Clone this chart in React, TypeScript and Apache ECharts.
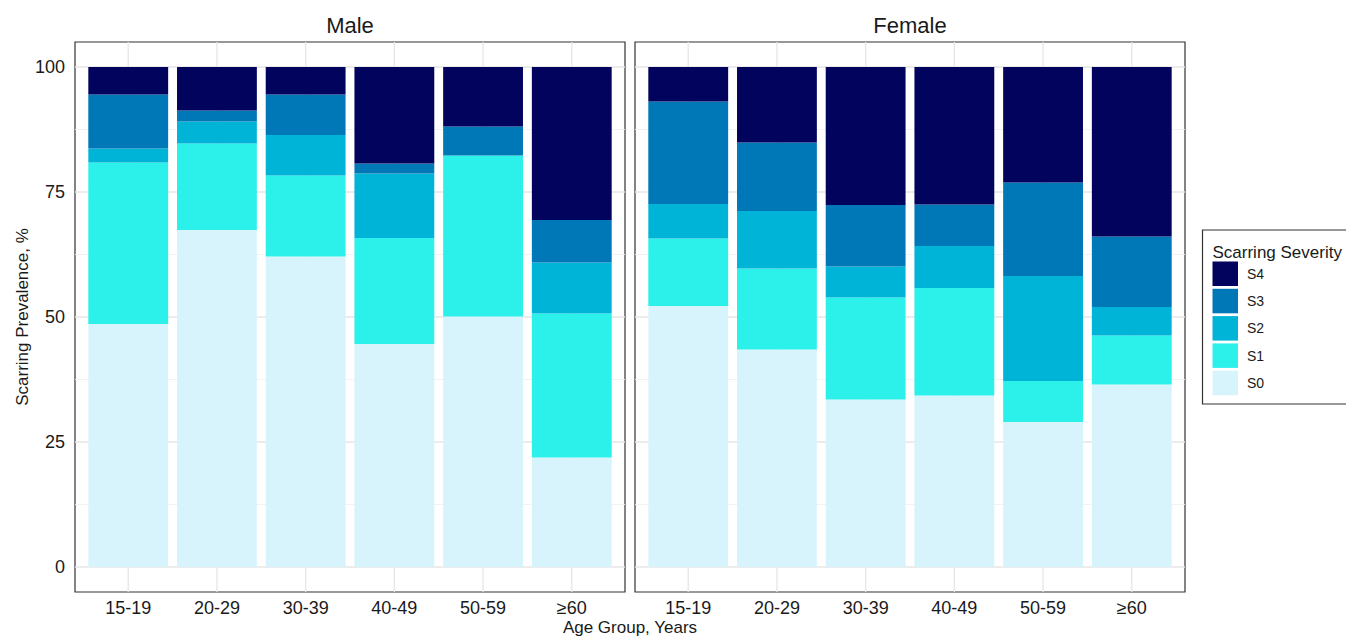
import React, { useEffect, useRef } from "react";
import * as echarts from "echarts";

const ageGroups = ["15-19", "20-29", "30-39", "40-49", "50-59", "≥60"];
const severities = ["S0", "S1", "S2", "S3", "S4"];
const severityColors = ["#D7F4FC", "#2CF1EA", "#00B4D8", "#0077B6", "#02035C"];
const legendOrder = ["S4", "S3", "S2", "S1", "S0"];

// Male, % per age group
const maleS0 = [48.6, 67.4, 62.1, 44.6, 50.1, 21.9];
const maleS1 = [32.3, 17.3, 16.2, 21.2, 32.2, 28.8];
const maleS2 = [2.8, 4.4, 8.1, 12.9, 0, 10.2];
const maleS3 = [10.8, 2.2, 8.1, 2.0, 5.8, 8.5];
const maleS4 = [5.5, 8.7, 5.5, 19.3, 11.9, 30.6];

// Female, % per age group
const femaleS0 = [52.2, 43.5, 33.5, 34.3, 29.0, 36.5];
const femaleS1 = [13.5, 16.2, 20.4, 21.5, 8.2, 9.8];
const femaleS2 = [6.9, 11.5, 6.2, 8.4, 21.0, 5.7];
const femaleS3 = [20.5, 13.7, 12.3, 8.3, 18.7, 14.1];
const femaleS4 = [6.9, 15.1, 27.6, 27.5, 23.1, 33.9];

const panelTitles = ["Male", "Female"];
const yTicks = [0, 25, 50, 75, 100];
const yGridMajor = [0, 25, 50, 75, 100];
const yGridMinor = [12.5, 37.5, 62.5, 87.5];
const catPositions = ageGroups.map((_, i) => i + 1);

const FONT = "'Liberation Sans', Arial, Helvetica, sans-serif";

export default function App() {
  const ref = useRef<HTMLDivElement>(null);

  useEffect(() => {
    if (!ref.current) return;
    const chart = echarts.init(ref.current, undefined, { renderer: "svg" });

    const panels = [
      [maleS0, maleS1, maleS2, maleS3, maleS4],
      [femaleS0, femaleS1, femaleS2, femaleS3, femaleS4],
    ];
    const gridLefts = [75, 635];
    const panelW = 550;
    const panelTop = 42;
    const panelH = 550;
    // ggplot-style expansion: 0.6 category units on each side (6.2 units total)
    const unit = panelW / 6.2;
    const inset = unit * 0.1;
    // y: -5..105 over the panel, bars 0..100
    const yUnit = panelH / 110;

    const grids: any[] = [];
    gridLefts.forEach((left) => {
      // frame + gridlines grid (full panel)
      grids.push({
        left,
        top: panelTop,
        width: panelW,
        height: panelH,
        show: true,
        backgroundColor: "#ffffff",
        borderColor: "#333333",
        borderWidth: 1.2,
      });
    });
    gridLefts.forEach((left) => {
      // bars grid (data region)
      grids.push({
        left: left + inset,
        top: panelTop + 5 * yUnit,
        width: panelW - 2 * inset,
        height: 100 * yUnit,
        show: false,
      });
    });

    const xAxes: any[] = [
      ...gridLefts.map((_, gi) => ({
        type: "value",
        gridIndex: gi,
        min: 0.4,
        max: 6.6,
        axisLine: { show: false },
        axisTick: { show: false },
        splitLine: { show: false },
        axisLabel: {
          show: true,
          customValues: catPositions,
          formatter: (v: number) => ageGroups[Math.round(v) - 1] ?? "",
          fontSize: 18,
          fontFamily: FONT,
          color: "#1a1a1a",
          margin: 7,
        },
      })),
      ...gridLefts.map((_, gi) => ({
        type: "category",
        gridIndex: 2 + gi,
        data: ageGroups,
        boundaryGap: true,
        axisLine: { show: false },
        axisTick: { show: false },
        splitLine: { show: false },
        axisLabel: { show: false },
      })),
    ];

    const yAxes: any[] = [
      ...gridLefts.map((_, gi) => ({
        type: "value",
        gridIndex: gi,
        min: -5,
        max: 105,
        axisLine: { show: false },
        axisTick: { show: false },
        splitLine: { show: false },
        axisLabel: {
          show: gi === 0,
          customValues: yTicks,
          fontSize: 18,
          fontFamily: FONT,
          color: "#1a1a1a",
          margin: 10,
        },
      })),
      ...gridLefts.map((_, gi) => ({
        type: "value",
        gridIndex: 2 + gi,
        min: 0,
        max: 100,
        axisLine: { show: false },
        axisTick: { show: false },
        splitLine: { show: false },
        axisLabel: { show: false },
      })),
    ];

    const series: any[] = [];
    gridLefts.forEach((_, gi) => {
      const hLines = [
        ...yGridMajor.map((v) => [1, v, 1]),
        ...yGridMinor.map((v) => [1, v, 0]),
      ];
      series.push({
        type: "custom",
        name: "hgrid" + gi,
        xAxisIndex: gi,
        yAxisIndex: gi,
        silent: true,
        z: 1,
        data: hLines,
        renderItem: (params: any, api: any) => {
          const cs = params.coordSys;
          const y = api.coord([1, api.value(1)])[1];
          const major = api.value(2) === 1;
          return {
            type: "line",
            shape: { x1: cs.x, y1: y, x2: cs.x + cs.width, y2: y },
            style: { stroke: major ? "#E6E6E6" : "#F0F0F0", lineWidth: major ? 1.3 : 0.9 },
          };
        },
      });
      series.push({
        type: "custom",
        name: "vgrid" + gi,
        xAxisIndex: gi,
        yAxisIndex: gi,
        silent: true,
        z: 1,
        data: catPositions.map((p) => [p, 50]),
        renderItem: (params: any, api: any) => {
          const cs = params.coordSys;
          const x = api.coord([api.value(0), 50])[0];
          return {
            type: "line",
            shape: { x1: x, y1: cs.y, x2: x, y2: cs.y + cs.height },
            style: { stroke: "#E6E6E6", lineWidth: 1.3 },
          };
        },
      });
      panels[gi].forEach((vals, si) => {
        series.push({
          type: "bar",
          name: severities[si],
          xAxisIndex: 2 + gi,
          yAxisIndex: 2 + gi,
          stack: "p" + gi,
          barWidth: "90%",
          z: 2,
          itemStyle: { color: severityColors[si] },
          data: vals,
        });
      });
    });

    const option: any = {
      animation: false,
      backgroundColor: "#ffffff",
      color: severityColors,
      grid: grids,
      xAxis: xAxes,
      yAxis: yAxes,
      legend: {
        data: legendOrder,
        orient: "vertical",
        left: 1212.5,
        top: 261.5,
        padding: 0,
        itemWidth: 25.5,
        itemHeight: 24.5,
        itemGap: 2.8,
        icon: "rect",
        selectedMode: false,
        textStyle: {
          fontSize: 14,
          fontFamily: FONT,
          color: "#1a1a1a",
          padding: [0, 0, 0, 4],
        },
      },
      graphic: [
        ...panelTitles.map((t, i) => ({
          type: "text",
          x: gridLefts[i] + panelW / 2,
          y: 25,
          style: {
            text: t,
            fontSize: 22,
            fontFamily: FONT,
            fill: "#1a1a1a",
            textAlign: "center",
            textVerticalAlign: "middle",
          },
        })),
        {
          type: "text",
          x: 630,
          y: 627,
          style: {
            text: "Age Group, Years",
            fontSize: 17,
            fontFamily: FONT,
            fill: "#1a1a1a",
            textAlign: "center",
            textVerticalAlign: "middle",
          },
        },
        {
          type: "text",
          x: 22,
          y: 317,
          rotation: Math.PI / 2,
          style: {
            text: "Scarring Prevalence, %",
            fontSize: 17,
            fontFamily: FONT,
            fill: "#1a1a1a",
            textAlign: "center",
            textVerticalAlign: "middle",
          },
        },
        {
          type: "rect",
          shape: { x: 1202.5, y: 230, width: 160, height: 174 },
          style: { fill: "none", stroke: "#333333", lineWidth: 1.2 },
          silent: true,
        },
        {
          type: "text",
          x: 1212.5,
          y: 252,
          style: {
            text: "Scarring Severity",
            fontSize: 17,
            fontFamily: FONT,
            fill: "#1a1a1a",
            textAlign: "left",
            textVerticalAlign: "middle",
          },
        },
      ],
      series,
    };

    chart.setOption(option);
    return () => chart.dispose();
  }, []);

  return (
    <div
      ref={ref}
      style={{ position: "fixed", left: 0, top: 0, width: 1346, height: 637 }}
    />
  );
}
